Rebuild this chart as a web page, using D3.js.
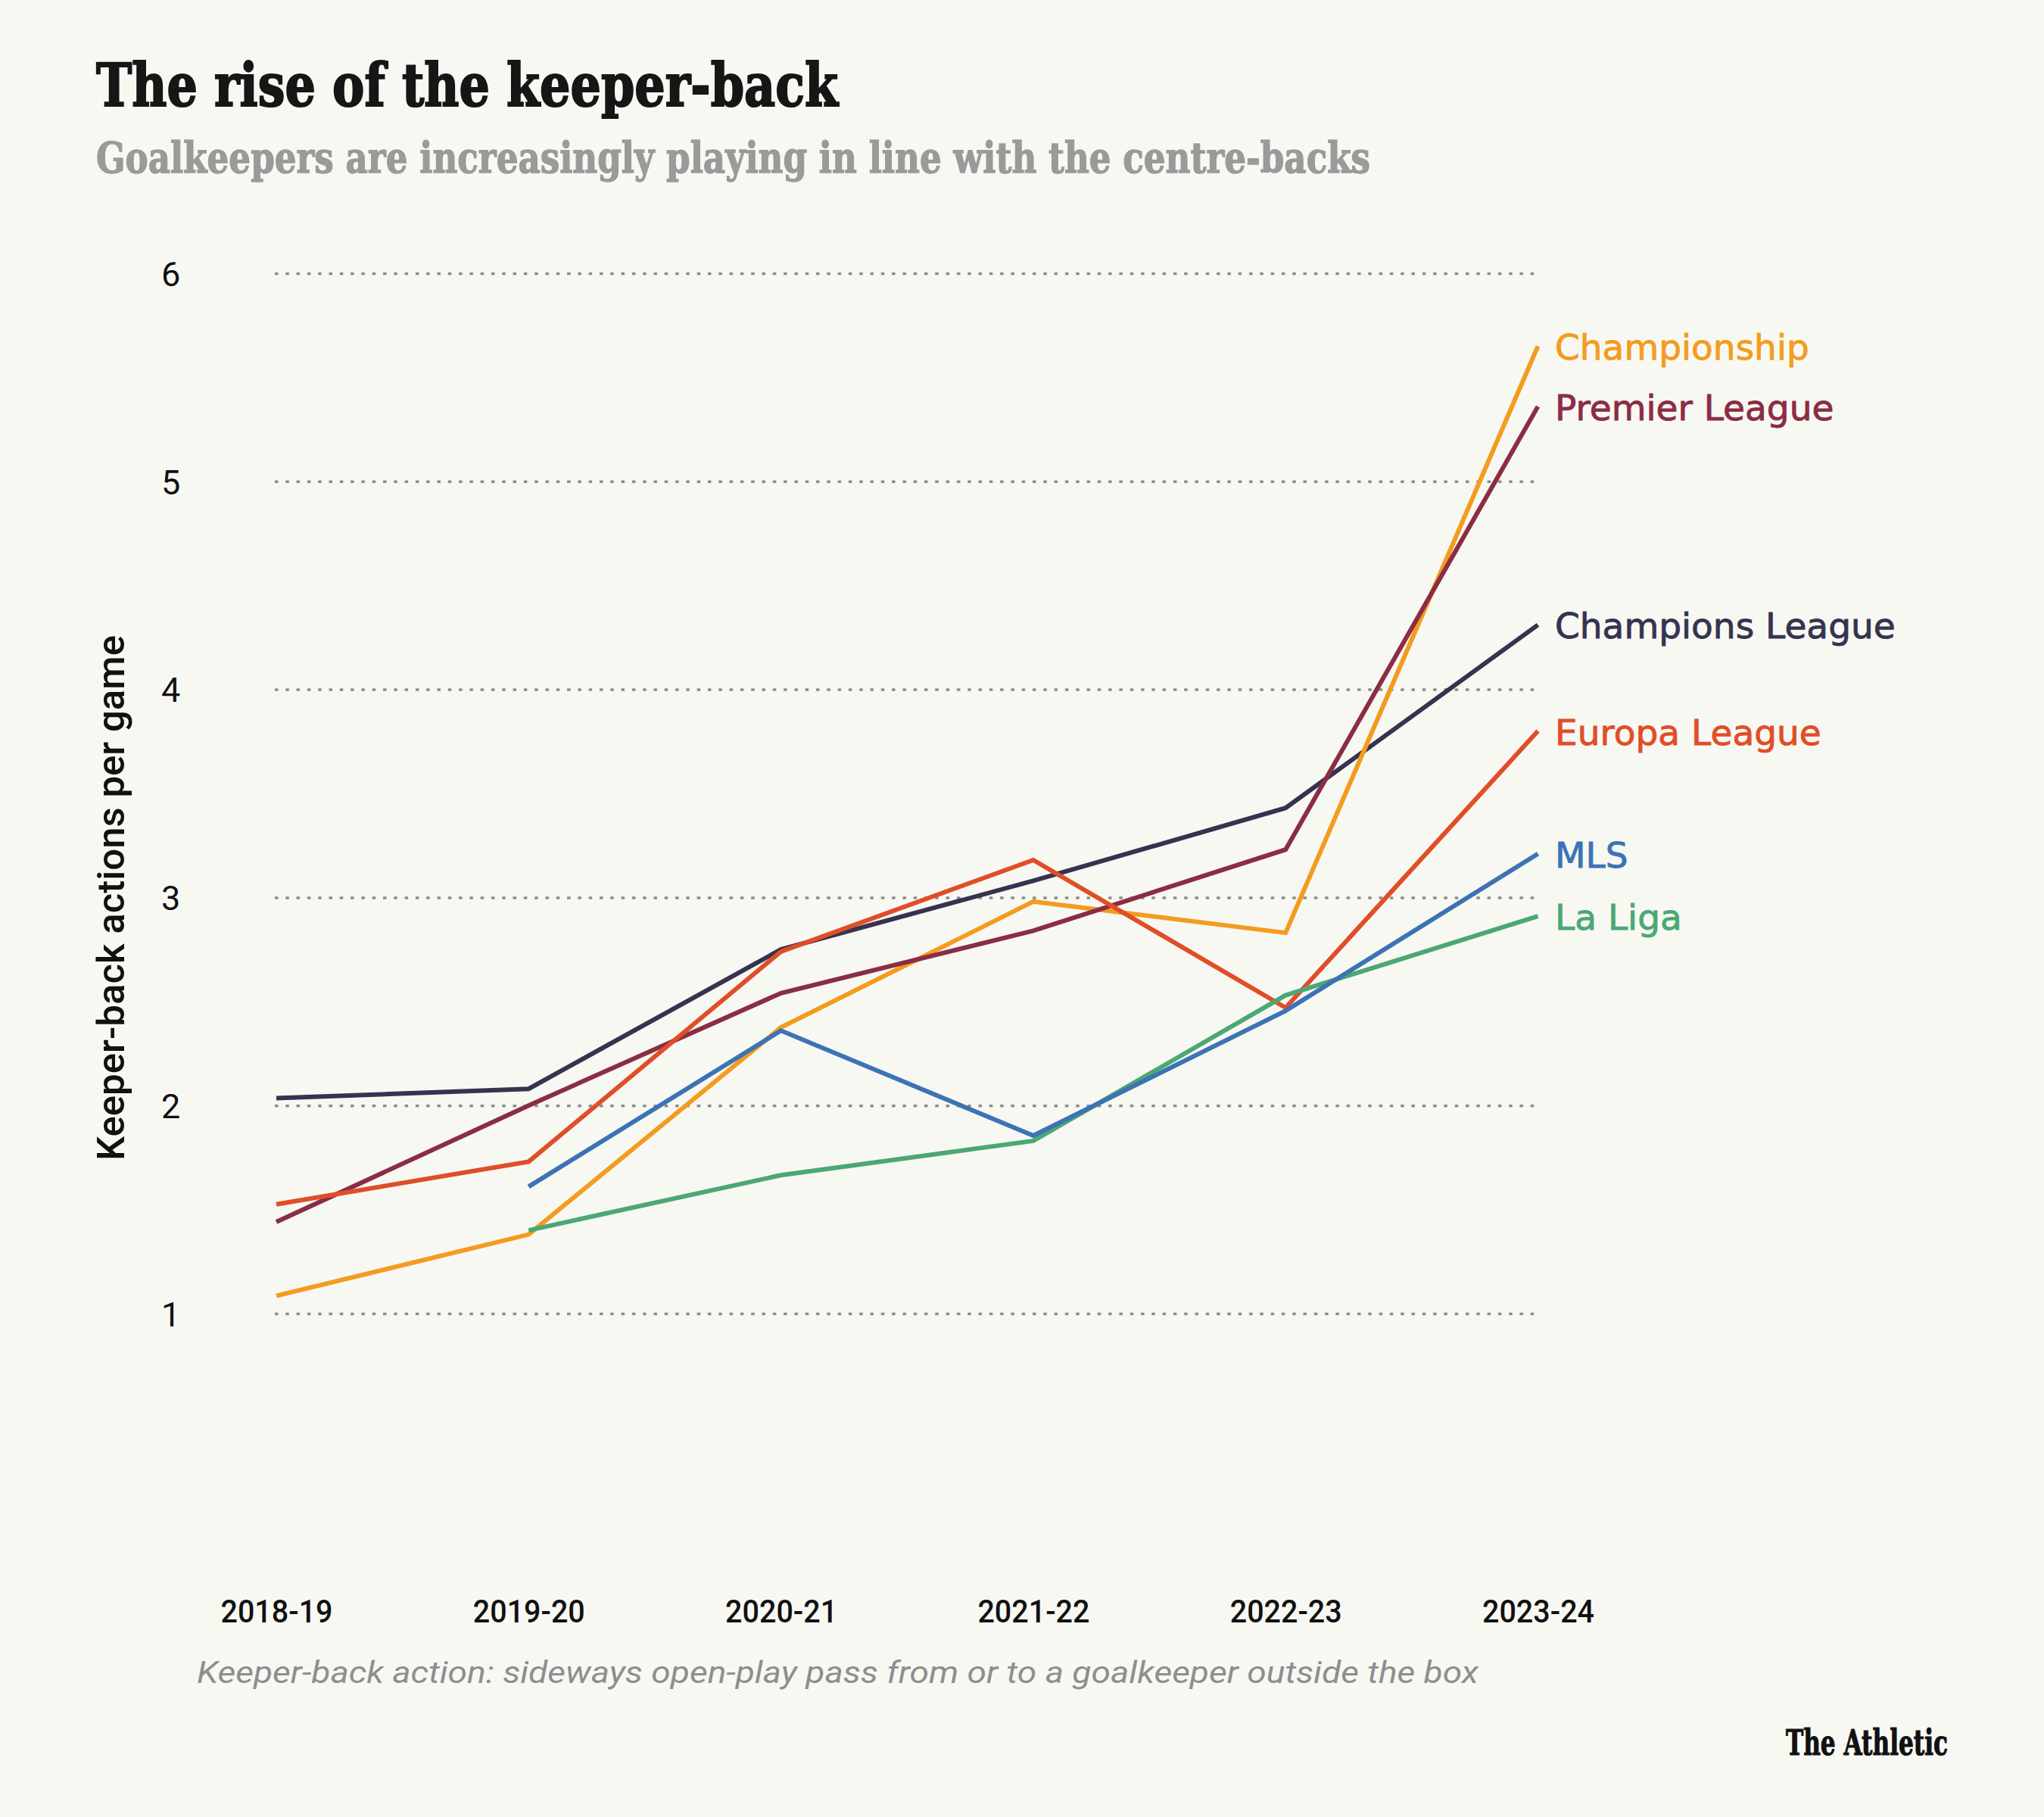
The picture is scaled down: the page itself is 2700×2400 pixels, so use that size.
<!DOCTYPE html>
<html>
<head>
<meta charset="utf-8">
<script src="https://cdn.jsdelivr.net/npm/d3@7"></script>
<style>
  html, body { margin: 0; padding: 0; background: #F8F8F3; }
  svg { display: block; }
</style>
</head>
<body>
<script>
const seasons = ["2018-19", "2019-20", "2020-21", "2021-22", "2022-23", "2023-24"];
const yTicks = [1, 2, 3, 4, 5, 6];

const championship    = [1.085, 1.38, 2.375, 2.98, 2.83, 5.65];
const premierLeague   = [1.44, 2.0, 2.54, 2.84, 3.23, 5.36];
const championsLeague = [2.035, 2.08, 2.75, 3.08, 3.43, 4.31];
const europaLeague    = [1.525, 1.73, 2.74, 3.18, 2.47, 3.80];
const mls             = [null, 1.61, 2.36, 1.855, 2.455, 3.21];
const laLiga          = [null, 1.40, 1.665, 1.83, 2.53, 2.91];

const seriesNames  = ["Champions League", "Championship", "Premier League", "Europa League", "La Liga", "MLS"];
const seriesValues = [championsLeague, championship, premierLeague, europaLeague, laLiga, mls];
const seriesColors = ["#36334F", "#F39C1F", "#8A2D45", "#E04E27", "#4BA873", "#3C73B4"];

const W = 2700, H = 2400;
const svg = d3.select("body").append("svg").attr("width", W).attr("height", H);
svg.append("rect").attr("width", W).attr("height", H).attr("fill", "#F8F8F3");

const x = d3.scalePoint().domain(seasons).range([365, 2031.5]);
const y = d3.scaleLinear().domain([1, 6]).range([1735, 361]);

// Title & subtitle
svg.append("text")
  .attr("x", 127).attr("y", 140)
  .attr("font-family", "DejaVu Serif").attr("font-weight", "bold")
  .attr("font-size", 78).attr("fill", "#161616")
  .attr("stroke", "#161616").attr("stroke-width", 2.2)
  .attr("textLength", 980).attr("lengthAdjust", "spacingAndGlyphs")
  .text("The rise of the keeper-back");

svg.append("text")
  .attr("x", 127).attr("y", 228)
  .attr("font-family", "DejaVu Serif").attr("font-weight", "bold")
  .attr("font-size", 56).attr("fill", "#9A9A9A")
  .attr("stroke", "#9A9A9A").attr("stroke-width", 1.4)
  .attr("textLength", 1683).attr("lengthAdjust", "spacingAndGlyphs")
  .text("Goalkeepers are increasingly playing in line with the centre-backs");

// Y axis with dotted gridlines
const yAxis = svg.append("g")
  .attr("transform", `translate(${x.range()[0] - 2},0)`)
  .call(d3.axisLeft(y).tickValues(yTicks).tickFormat(d3.format("d"))
    .tickSize(-(x.range()[1] - x.range()[0] + 4)));
yAxis.select(".domain").remove();
yAxis.selectAll(".tick line")
  .attr("stroke", "#8C8C8C").attr("stroke-width", 3.5)
  .attr("stroke-dasharray", "4.5,9.8");
yAxis.selectAll(".tick text")
  .attr("x", 225.6 - (x.range()[0] - 2)).attr("dy", "0.36em")
  .attr("text-anchor", "middle")
  .attr("font-family", "Roboto").attr("font-size", 45).attr("fill", "#111");

// X axis
const xAxis = svg.append("g")
  .attr("transform", "translate(0,2143)")
  .call(d3.axisBottom(x).tickSize(0));
xAxis.select(".domain").remove();
xAxis.selectAll(".tick text")
  .attr("y", 0).attr("dy", 0)
  .attr("font-family", "Roboto").attr("font-weight", 500)
  .attr("font-size", 43).attr("fill", "#111")
  .attr("textLength", 148).attr("lengthAdjust", "spacingAndGlyphs");

// Y axis title
svg.append("text")
  .attr("transform", "translate(164,1186) rotate(-90)")
  .attr("text-anchor", "middle")
  .attr("font-family", "Roboto").attr("font-weight", 500).attr("font-size", 50).attr("fill", "#111")
  .attr("textLength", 694).attr("lengthAdjust", "spacingAndGlyphs")
  .text("Keeper-back actions per game");

// Lines
const line = d3.line()
  .defined(d => d.v != null)
  .x(d => x(d.s)).y(d => y(d.v));

seriesNames.forEach((name, i) => {
  const pts = seasons.map((s, j) => ({ s, v: seriesValues[i][j] }));
  svg.append("path")
    .datum(pts)
    .attr("d", line)
    .attr("fill", "none")
    .attr("stroke", seriesColors[i])
    .attr("stroke-width", 6)
    .attr("stroke-linejoin", "miter");
  const last = seriesValues[i][seasons.length - 1];
  svg.append("text")
    .attr("x", 2054).attr("y", y(last) + 18)
    .attr("font-family", "DejaVu Sans").attr("font-size", 47)
    .attr("fill", seriesColors[i])
    .attr("stroke", seriesColors[i]).attr("stroke-width", 0.9)
    .text(name);
});

// Footnote
svg.append("text")
  .attr("x", 260).attr("y", 2223)
  .attr("font-family", "Roboto").attr("font-style", "italic")
  .attr("font-size", 41).attr("fill", "#8E8E8E")
  .attr("textLength", 1693).attr("lengthAdjust", "spacingAndGlyphs")
  .text("Keeper-back action: sideways open-play pass from or to a goalkeeper outside the box");

// Logo
svg.append("text")
  .attr("x", 2573).attr("y", 2318).attr("text-anchor", "end")
  .attr("font-family", "DejaVu Serif").attr("font-weight", "bold")
  .attr("font-size", 46).attr("fill", "#111")
  .attr("stroke", "#111").attr("stroke-width", 1.2)
  .attr("textLength", 214).attr("lengthAdjust", "spacingAndGlyphs")
  .text("The Athletic");
</script>
</body>
</html>
